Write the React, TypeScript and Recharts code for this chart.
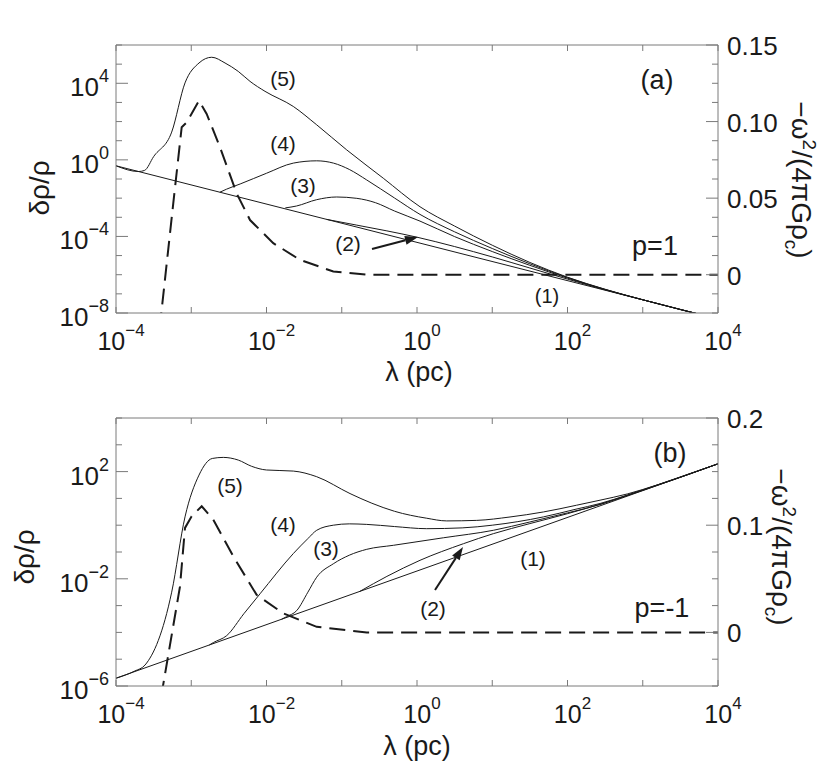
import { Line, LineChart, ReferenceLine, XAxis, YAxis } from 'recharts'

type Pair = [number, number]

const INK = '#1a1a1a'
const FRAME = '#7a7a7a'
const FONT = '"Liberation Sans", Arial, Helvetica, sans-serif'

// x axis: decades of lambda (pc)
const X_EXP = [-4, -3, -2, -1, 0, 1, 2, 3, 4]

// panel (a), p = 1 -- pairs are [log10 lambda, log10 drho/rho]
const A_LEFT_EXP = [-8, -7, -6, -5, -4, -3, -2, -1, 0, 1, 2, 3, 4, 5, 6]
const A_LEFT_LABELED = [-8, -4, 0, 4]
const A_RIGHT_TICKS = [-0.025, -0.0125, 0, 0.0125, 0.025, 0.0375, 0.05, 0.0625, 0.075, 0.0875, 0.1, 0.1125, 0.125, 0.1375, 0.15]
const A_RIGHT_LABELS: [number, string][] = [[0, '0'], [0.05, '0.05'], [0.1, '0.10'], [0.15, '0.15']]

const A_C1: Pair[] = [[-4, -0.31], [4, -8.31]]
const A_C2: Pair[] = [[-1.2, -3.11], [-0.8, -3.41], [-0.4, -3.71], [0, -4.04], [0.5, -4.53], [1, -5.07], [1.5, -5.65], [2, -6.23], [2.5, -6.79], [3, -7.31], [4, -8.31]]
const A_C3: Pair[] = [[-1.75, -2.51], [-1.6, -2.41], [-1.333, -2.08], [-1.067, -1.94], [-0.8, -2.01], [-0.55, -2.24], [-0.3, -2.67], [0.04, -3.2], [0.5, -4.01], [1, -4.79], [1.5, -5.51], [2, -6.18], [2.5, -6.78], [3, -7.31], [4, -8.31]]
const A_C4: Pair[] = [[-2.62, -1.69], [-2.53, -1.53], [-2.35, -1.26], [-2.0, -0.7], [-1.644, -0.17], [-1.333, -0.05], [-1.11, -0.17], [-0.9, -0.5], [-0.668, -1.05], [-0.3, -1.99], [0.04, -2.85], [0.5, -3.76], [1, -4.63], [1.5, -5.43], [2, -6.15], [2.5, -6.77], [3, -7.31], [4, -8.31]]
const A_C5: Pair[] = [[-4, -0.31], [-3.7, -0.61], [-3.62, -0.55], [-3.5, 0.17], [-3.26, 1.45], [-3.083, 4.02], [-2.897, 5.06], [-2.728, 5.36], [-2.551, 5.06], [-2.375, 4.62], [-2.219, 4.1], [-2.02, 3.58], [-1.644, 2.79], [-1.333, 1.83], [-0.934, 0.52], [-0.448, -0.96], [0.04, -2.45], [0.5, -3.46], [1, -4.46], [1.5, -5.36], [2, -6.13], [2.5, -6.76], [3, -7.31], [4, -8.31]]
// dashed: [log10 lambda, -omega^2/(4 pi G rho_c)]
const A_DASH: Pair[] = [[-3.42, -0.035], [-3.239, 0.0466], [-3.127, 0.0963], [-3.06, 0.0995], [-2.897, 0.1136], [-2.795, 0.105], [-2.618, 0.0833], [-2.396, 0.053], [-2.219, 0.0357], [-1.91, 0.0206], [-1.555, 0.0097], [-1.112, 0.0021], [-0.668, 0], [4, 0]]

// panel (b), p = -1
const B_LEFT_EXP = [-6, -5, -4, -3, -2, -1, 0, 1, 2, 3, 4]
const B_LEFT_LABELED = [-6, -2, 2]
const B_RIGHT_TICKS = [-0.05, -0.025, 0, 0.025, 0.05, 0.075, 0.1, 0.125, 0.15, 0.175, 0.2]
const B_RIGHT_LABELS: [number, string][] = [[0, '0'], [0.1, '0.1'], [0.2, '0.2']]

const B_C1: Pair[] = [[-4, -5.71], [4, 2.29]]
const B_C2: Pair[] = [[-0.76, -2.47], [-0.4, -1.91], [0.04, -1.31], [0.617, -0.69], [1.015, -0.315], [1.5, 0.06], [2, 0.43], [2.5, 0.84], [3, 1.3], [4, 2.29]]
const B_C3: Pair[] = [[-1.8, -3.51], [-1.731, -3.41], [-1.6, -3.19], [-1.45, -2.5], [-1.333, -1.94], [-1.112, -1.44], [-0.9, -1.12], [-0.668, -0.9], [-0.314, -0.75], [0.35, -0.47], [1.015, -0.19], [1.5, 0.12], [2, 0.46], [2.432, 0.77], [2.8, 1.12], [3.2, 1.5], [4, 2.29]]
const B_C4: Pair[] = [[-2.76, -4.47], [-2.707, -4.38], [-2.529, -4.12], [-2.3, -3.3], [-2.086, -2.56], [-1.644, -1.06], [-1.45, -0.5], [-1.333, -0.19], [-1.112, 0.0], [-0.9, 0.05], [-0.668, 0.03], [-0.3, -0.05], [0.129, -0.13], [0.6, -0.1], [1.0, 0.0], [1.68, 0.31], [2.1, 0.59], [2.432, 0.81], [2.8, 1.13], [3.2, 1.51], [4, 2.29]]
const B_C5: Pair[] = [[-4, -5.71], [-3.75, -5.44], [-3.615, -5.22], [-3.26, -2.5], [-3.083, 0.31], [-2.897, 1.87], [-2.72, 2.49], [-2.574, 2.53], [-2.375, 2.43], [-2.2, 2.2], [-2.0, 2.06], [-1.644, 2.02], [-1.333, 1.81], [-0.89, 1.18], [-0.6, 0.82], [-0.3, 0.52], [0.129, 0.26], [0.395, 0.16], [0.794, 0.18], [1.236, 0.307], [1.68, 0.494], [2.12, 0.745], [2.432, 0.933], [2.8, 1.17], [3.2, 1.51], [4, 2.29]]
const B_DASH: Pair[] = [[-3.4, -0.06], [-3.15, 0.0427], [-3.083, 0.0975], [-2.995, 0.1083], [-2.861, 0.1177], [-2.707, 0.1052], [-2.441, 0.0709], [-2.131, 0.035], [-1.777, 0.0178], [-1.333, 0.0052], [-0.668, 0], [4, 0]]

const logPts = (arr: Pair[]) => arr.map(([lx, ly]) => ({ x: 10 ** lx, y: 10 ** ly }))
const linPts = (arr: Pair[]) => arr.map(([lx, v]) => ({ x: 10 ** lx, y: v }))
const expText = (e: number) => (e < 0 ? '\u2212' + Math.abs(e) : String(e))

function makeXTick(plotTop: number) {
  return (p: any) => {
    const { x, y, payload } = p
    const e = Math.round(Math.log10(payload.value))
    return (
      <g>
        <line x1={x} x2={x} y1={y} y2={y - 6} stroke={FRAME} />
        <line x1={x} x2={x} y1={plotTop} y2={plotTop + 6} stroke={FRAME} />
        {e % 2 === 0 && (
          <text x={x + 5} y={y + 37} textAnchor="middle" fontFamily={FONT} fontSize={25} fill={INK}>
            10<tspan dy={-14} fontSize={17}>{expText(e)}</tspan>
          </text>
        )}
      </g>
    )
  }
}

function makeLeftTick(labeled: number[]) {
  return (p: any) => {
    const { x, y, payload } = p
    const e = Math.round(Math.log10(payload.value))
    const major = labeled.includes(e)
    return (
      <g>
        <line x1={x} x2={x + (major ? 12 : 6)} y1={y} y2={y} stroke={FRAME} />
        {major && (
          <text x={x - 7} y={y + 13} textAnchor="end" fontFamily={FONT} fontSize={26} fill={INK}>
            10<tspan dy={-14} fontSize={18}>{expText(e)}</tspan>
          </text>
        )}
      </g>
    )
  }
}

function makeRightTick(labels: [number, string][]) {
  return (p: any) => {
    const { x, y, payload } = p
    const lab = labels.find(([v]) => Math.abs(v - payload.value) < 1e-9)
    return (
      <g>
        <line x1={x} x2={x - (lab ? 12 : 6)} y1={y} y2={y} stroke={FRAME} />
        {lab && (
          <text x={x + 9} y={y + 10} textAnchor="start" fontFamily={FONT} fontSize={26} fill={INK}>
            {lab[1]}
          </text>
        )}
      </g>
    )
  }
}

interface PanelProps {
  top: number
  height: number
  marginTop: number
  xAxisHeight: number
  leftExp: number[]
  leftLabeled: number[]
  rightTicks: number[]
  rightLabels: [number, string][]
  curves: Pair[][]
  dash: Pair[]
}

function Panel(props: PanelProps) {
  const { top, height, marginTop, xAxisHeight, leftExp, leftLabeled, rightTicks, rightLabels, curves, dash } = props
  const leftTicks = leftExp.map((e) => 10 ** e)
  const leftDomain: [number, number] = [leftTicks[0], leftTicks[leftTicks.length - 1]]
  const rightDomain: [number, number] = [rightTicks[0], rightTicks[rightTicks.length - 1]]
  return (
    <div style={{ position: 'absolute', left: 0, top, width: 830, height }}>
      <LineChart width={830} height={height} margin={{ top: marginTop, right: 0, bottom: 0, left: 0 }}>
        <XAxis
          dataKey="x"
          type="number"
          scale="log"
          domain={[1e-4, 1e4]}
          ticks={X_EXP.map((e) => 10 ** e)}
          interval={0}
          allowDataOverflow
          height={xAxisHeight}
          tickSize={0}
          tickMargin={0}
          tickLine={false}
          axisLine={{ stroke: FRAME }}
          tick={makeXTick(marginTop)}
        />
        <YAxis
          yAxisId="left"
          orientation="left"
          type="number"
          scale="log"
          domain={leftDomain}
          ticks={leftTicks}
          interval={0}
          allowDataOverflow
          width={116}
          tickSize={0}
          tickMargin={0}
          tickLine={false}
          axisLine={{ stroke: FRAME }}
          tick={makeLeftTick(leftLabeled)}
        />
        <YAxis
          yAxisId="right"
          orientation="right"
          type="number"
          domain={rightDomain}
          ticks={rightTicks}
          interval={0}
          allowDataOverflow
          width={112}
          tickSize={0}
          tickMargin={0}
          tickLine={false}
          axisLine={{ stroke: FRAME }}
          tick={makeRightTick(rightLabels)}
        />
        <ReferenceLine yAxisId="left" y={leftDomain[1]} stroke={FRAME} ifOverflow="visible" />
        {curves.map((c, i) => (
          <Line
            key={i}
            data={logPts(c)}
            dataKey="y"
            yAxisId="left"
            type="monotone"
            stroke={INK}
            strokeWidth={1}
            dot={false}
            activeDot={false}
            isAnimationActive={false}
          />
        ))}
        <Line
          data={linPts(dash)}
          dataKey="y"
          yAxisId="right"
          type="linear"
          stroke={INK}
          strokeWidth={2}
          strokeDasharray="16 8"
          dot={false}
          activeDot={false}
          isAnimationActive={false}
        />
      </LineChart>
    </div>
  )
}

function Arrow({ x1, y1, x2, y2 }: { x1: number; y1: number; x2: number; y2: number }) {
  const a = Math.atan2(y2 - y1, x2 - x1)
  const len = 13
  const w = 4.5
  const bx = x2 - len * Math.cos(a)
  const by = y2 - len * Math.sin(a)
  const px = -Math.sin(a) * w
  const py = Math.cos(a) * w
  return (
    <g>
      <line x1={x1} y1={y1} x2={bx} y2={by} stroke={INK} strokeWidth={2} />
      <polygon points={`${x2},${y2} ${bx + px},${by + py} ${bx - px},${by - py}`} fill={INK} />
    </g>
  )
}

function RightTitle({ x, y }: { x: number; y: number }) {
  return (
    <text transform={`translate(${x},${y}) rotate(90)`} textAnchor="middle" fontFamily={FONT} fontSize={28} fill={INK}>
      {'\u2212\u03c9'}
      <tspan dy={-11} fontSize={19}>2</tspan>
      <tspan dy={11}>{'/(4\u03c0G\u03c1'}</tspan>
      <tspan dy={7} fontSize={19}>c</tspan>
      <tspan dy={-7}>)</tspan>
    </text>
  )
}

function Overlay() {
  const t = (x: number, y: number, s: string, size = 21) => (
    <text x={x} y={y} textAnchor="middle" fontFamily={FONT} fontSize={size} fill={INK}>
      {s}
    </text>
  )
  return (
    <svg width={830} height={769} style={{ position: 'absolute', left: 0, top: 0, pointerEvents: 'none' }}>
      {/* panel (a) */}
      {t(283, 86, '(5)')}
      {t(283, 151, '(4)')}
      {t(303, 193, '(3)')}
      {t(348, 251, '(2)')}
      {t(547, 303, '(1)', 20)}
      {t(657, 89, '(a)', 27)}
      {t(655, 255, 'p=1', 27)}
      <Arrow x1={372} y1={249} x2={418} y2={237} />
      <text transform="translate(49,188) rotate(-90)" textAnchor="middle" fontFamily={FONT} fontSize={28} fill={INK}>
        {'\u03b4\u03c1/\u03c1'}
      </text>
      <RightTitle x={792} y={180} />
      <text x={419} y={381} textAnchor="middle" fontFamily={FONT} fontSize={27} fill={INK}>
        {'\u03bb (pc)'}
      </text>

      {/* panel (b) */}
      {t(230, 493, '(5)')}
      {t(283, 532, '(4)')}
      {t(326, 556, '(3)')}
      {t(433, 616, '(2)')}
      {t(533, 566, '(1)')}
      {t(670, 462, '(b)', 27)}
      {t(662, 617, 'p=-1', 27)}
      <Arrow x1={435} y1={590} x2={463} y2={547} />
      <text transform="translate(34,557) rotate(-90)" textAnchor="middle" fontFamily={FONT} fontSize={28} fill={INK}>
        {'\u03b4\u03c1/\u03c1'}
      </text>
      <RightTitle x={772} y={547} />
      <text x={417} y={755} textAnchor="middle" fontFamily={FONT} fontSize={27} fill={INK}>
        {'\u03bb (pc)'}
      </text>
    </svg>
  )
}

export default function App() {
  return (
    <div style={{ position: 'absolute', left: 0, top: 0, width: 830, height: 769, background: '#fff' }}>
      <Panel
        top={0}
        height={400}
        marginTop={45}
        xAxisHeight={87}
        leftExp={A_LEFT_EXP}
        leftLabeled={A_LEFT_LABELED}
        rightTicks={A_RIGHT_TICKS}
        rightLabels={A_RIGHT_LABELS}
        curves={[A_C1, A_C2, A_C3, A_C4, A_C5]}
        dash={A_DASH}
      />
      <Panel
        top={400}
        height={369}
        marginTop={18}
        xAxisHeight={83}
        leftExp={B_LEFT_EXP}
        leftLabeled={B_LEFT_LABELED}
        rightTicks={B_RIGHT_TICKS}
        rightLabels={B_RIGHT_LABELS}
        curves={[B_C1, B_C2, B_C3, B_C4, B_C5]}
        dash={B_DASH}
      />
      <Overlay />
    </div>
  )
}
